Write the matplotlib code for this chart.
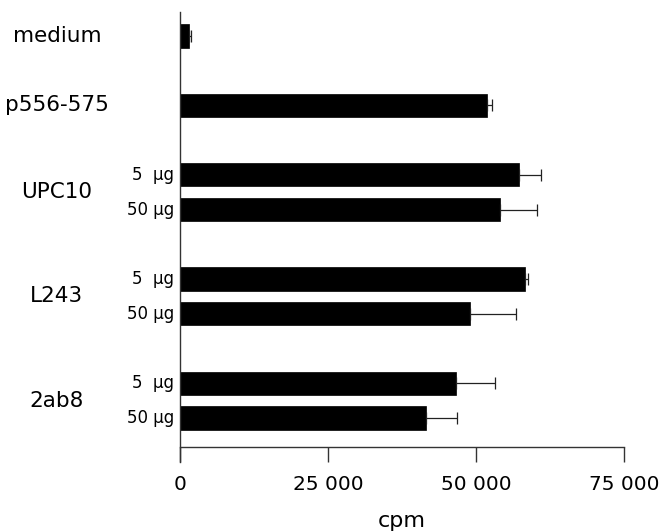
import matplotlib
matplotlib.use("Agg")
import matplotlib.pyplot as plt
import numpy as np

# ---- data ----
groups = ["medium", "p556-575", "UPC10", "L243", "2ab8"]
doses = [[""], [""], ["5  µg", "50 µg"], ["5  µg", "50 µg"], ["5  µg", "50 µg"]]
cpm = [[1500], [51800], [57200, 54000], [58300, 49000], [46600, 41500]]
cpm_err = [[400], [900], [3800, 6300], [500, 7800], [6600, 5300]]
xticks = [0, 25000, 50000, 75000]
xticklabels = ["0", "25 000", "50 000", "75 000"]

# bar positions: one unit per bar, one empty unit between groups
ypos, vals, errs, dose_lab, grp_center = [], [], [], [], []
y = 0
for g, ds, vs, es in zip(groups, doses, cpm, cpm_err):
    start = y
    for d, v, e in zip(ds, vs, es):
        ypos.append(y)
        vals.append(v)
        errs.append(e)
        dose_lab.append(d)
        y += 1
    grp_center.append((start + y - 1) / 2)
    y += 1

W, H = 662, 531
fig = plt.figure(figsize=(W / 100, H / 100), dpi=100)
# axes pixel box: x 180..624, y 12..462
ax = fig.add_axes([180 / W, 1 - 462 / H, 444 / W, 450 / H])
ax.set_xlim(0, 75000)
ax.set_ylim(12.27, -0.69)

ax.barh(ypos, vals, height=0.67, color="black", edgecolor="black", lw=0.5)
ax.errorbar(vals, ypos, xerr=[np.zeros(len(errs)), errs], fmt="none",
            ecolor="#222222", elinewidth=0.9, capsize=4.5, capthick=0.9,
            clip_on=False)

for s in ["top", "right"]:
    ax.spines[s].set_visible(False)
ax.spines["bottom"].set_position(("data", 11.83))
ax.spines["bottom"].set_bounds(0, 75000)
for s in ["bottom", "left"]:
    ax.spines[s].set_linewidth(1.0)
    ax.spines[s].set_color("#333333")

ax.set_xticks(xticks)
ax.set_xticklabels(xticklabels, fontsize=14.5)
ax.tick_params(axis="x", direction="out", length=11, width=1.0,
               color="#333333", pad=9)
ax.set_yticks([])

# labels on the left
for g, yc in zip(groups, grp_center):
    ax.text(-20800, yc, g, fontsize=15.5, ha="center", va="center",
            transform=ax.transData, clip_on=False)
for d, yp in zip(dose_lab, ypos):
    if d:
        ax.text(-1000, yp, d, fontsize=12, ha="right", va="center",
                clip_on=False)

fig.text(402 / W, 1 - 521 / H, "cpm", fontsize=16, ha="center", va="center")

fig.savefig("out.png", dpi=100)
